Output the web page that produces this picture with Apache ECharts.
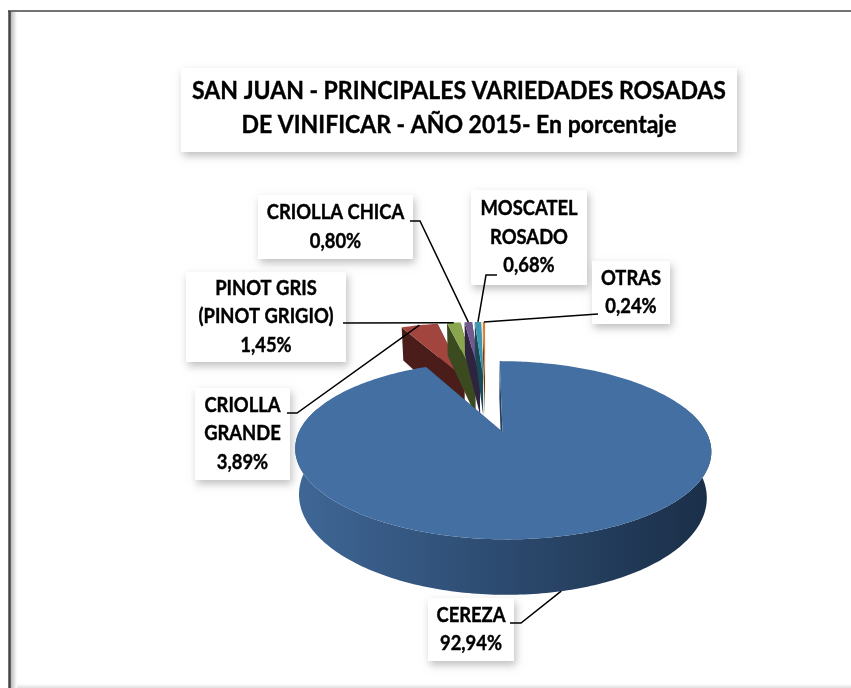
<!DOCTYPE html>
<html>
<head>
<meta charset="utf-8">
<script src="https://cdn.jsdelivr.net/npm/echarts@6/dist/echarts.min.js"></script>
<style>
html, body { margin: 0; padding: 0; background: #fff; }
#chart { width: 851px; height: 688px; }
</style>
</head>
<body>
<div id="chart"></div>
<script>
var variedades = ['CEREZA', 'CRIOLLA\nGRANDE', 'PINOT GRIS\n(PINOT GRIGIO)', 'CRIOLLA CHICA', 'MOSCATEL\nROSADO', 'OTRAS'];
var porcentajes = [92.94, 3.89, 1.45, 0.80, 0.68, 0.24];
var titulo = 'SAN JUAN - PRINCIPALES VARIEDADES ROSADAS\nDE VINIFICAR - AÑO 2015- En porcentaje';

var coloresTop = ['#446fa3', '#a3453f', '#89a54e', '#71588f', '#3d97b0', '#dd7e2a'];
var coloresLado = ['#25405f', '#4a1c1a', '#3c4a20', '#2e2440', '#1a4a55', '#6e3d12'];

// label boxes: x, y, w, h, then the leader's first points
var cajas = [
    { box: [428, 598, 86, 63], lider: [[510, 623], [521, 623]], pie: true },
    { box: [195, 388, 95, 92], lider: [[287, 413], [297, 413]] },
    { box: [186, 272, 160, 90], lider: [[343, 323]] },
    { box: [258, 195, 155, 64], lider: [[410, 221], [420, 221]] },
    { box: [471, 190, 116, 95], lider: [[497, 275], [486, 275]] },
    { box: [592, 261, 78, 63], lider: [[598, 314]] }
];

// perspective of the pie
var centroX = 485.5, centroY = 402.6, radioX = 189.3, radioY = 73.8;
var persp = 0.19, explosion = 0.38, alto = 41, encoge = 0.98;
var anchoLetra = 0.92; // Lato runs wider than the original font

function proyecta(u, v) {
    var d = 1 - persp * v;
    return { x: centroX + radioX * u / d, y: centroY + radioY * v / d, d: d };
}
function arriba(u, v) {
    var p = proyecta(u, v);
    return [p.x, p.y];
}
function abajo(u, v) {
    var p = proyecta(u, v);
    return [centroX + (p.x - centroX) * encoge, p.y + alto / p.d];
}

var total = porcentajes.reduce(function (a, b) { return a + b; }, 0);
var angulos = [];
porcentajes.reduce(function (acum, val) {
    var fin = acum + val;
    angulos.push([acum / total * 2 * Math.PI, fin / total * 2 * Math.PI]);
    return fin;
}, 0);

function geometria(i) {
    var a0 = angulos[i][0], a1 = angulos[i][1], mid = (a0 + a1) / 2;
    return { a0: a0, a1: a1, mid: mid, u0: explosion * Math.sin(mid), v0: -explosion * Math.cos(mid) };
}

function dibujaPorcion(params, api) {
    var i = api.value(0);
    var g = geometria(i);
    var pasos = Math.max(2, Math.ceil((g.a1 - g.a0) / (Math.PI / 180)));
    var sup = [arriba(g.u0, g.v0)], frente = [], frenteAbajo = [];
    for (var k = 0; k <= pasos; k++) {
        var a = g.a0 + (g.a1 - g.a0) * k / pasos;
        var u = g.u0 + Math.sin(a), v = g.v0 - Math.cos(a);
        sup.push(arriba(u, v));
        // the rim turns away a bit behind the widest point, the top face covers the rest
        if (Math.cos(a) < 0.3) {
            frente.push(arriba(u, v));
            frenteAbajo.unshift(abajo(u, v));
        }
    }
    function cara(a) {
        var u = g.u0 + Math.sin(a), v = g.v0 - Math.cos(a);
        return {
            type: 'polygon',
            shape: { points: [arriba(g.u0, g.v0), arriba(u, v), abajo(u, v), abajo(g.u0, g.v0)] },
            style: { fill: coloresLado[i] }
        };
    }
    var hijos = [cara(g.a0), cara(g.a1)];
    if (frente.length > 1) {
        hijos.push({
            type: 'polygon',
            shape: { points: frente.concat(frenteAbajo) },
            style: {
                fill: new echarts.graphic.LinearGradient(0, 0, 1, 0, [
                    { offset: 0, color: '#3f6796' },
                    { offset: 0.5, color: '#2c4a6f' },
                    { offset: 1, color: '#1a2e47' }
                ])
            }
        });
    }
    hijos.push({ type: 'polygon', shape: { points: sup }, style: { fill: coloresTop[i] } });
    return { type: 'group', children: hijos };
}

function dibujaEtiqueta(params, api) {
    var i = api.value(0);
    var c = cajas[i], g = geometria(i);
    var ux = g.u0 + Math.sin(g.mid), vx = g.v0 - Math.cos(g.mid);
    var fin = c.pie ? abajo(ux, vx) : arriba(ux, vx);
    var texto = variedades[i] + '\n' + porcentajes[i].toFixed(2).replace('.', ',') + '%';
    var mx = c.box[0] + c.box[2] / 2, my = c.box[1] + c.box[3] / 2;
    return {
        type: 'group',
        children: [
            {
                type: 'rect',
                shape: { x: c.box[0], y: c.box[1], width: c.box[2], height: c.box[3] },
                style: { fill: '#fff', shadowBlur: 8, shadowOffsetX: 2, shadowOffsetY: 4, shadowColor: 'rgba(0,0,0,0.25)' }
            },
            {
                type: 'text',
                originX: mx,
                originY: my,
                scaleX: anchoLetra,
                style: {
                    x: mx, y: my,
                    text: texto, align: 'center', verticalAlign: 'middle',
                    font: 'bold 20px Lato', lineHeight: 28.5, fill: '#000',
                    stroke: '#000', lineWidth: 0.4
                }
            },
            {
                type: 'polyline',
                shape: { points: c.lider.concat([fin]) },
                style: { stroke: '#000', lineWidth: 1.5, fill: 'none' }
            }
        ]
    };
}

var chart = echarts.init(document.getElementById('chart'), null, { renderer: 'canvas' });
chart.setOption({
    animation: false,
    backgroundColor: '#fff',
    graphic: [
        { type: 'rect', z: 0, shape: { x: 10, y: 12, width: 7, height: 676 }, style: { fill: new echarts.graphic.LinearGradient(0, 0, 1, 0, [{ offset: 0, color: '#b0b0b0' }, { offset: 1, color: '#fff' }]) } },
        { type: 'rect', z: 0, shape: { x: 17, y: 684, width: 834, height: 4 }, style: { fill: new echarts.graphic.LinearGradient(0, 0, 0, 1, [{ offset: 0, color: '#fff' }, { offset: 1, color: '#dfdfdf' }]) } },
        { type: 'line', z: 1, shape: { x1: 8, y1: 11, x2: 851, y2: 11 }, style: { stroke: '#444', lineWidth: 1.5 } },
        { type: 'line', z: 1, shape: { x1: 9.5, y1: 11, x2: 9.5, y2: 688 }, style: { stroke: '#444', lineWidth: 2.5 } },
        { type: 'rect', z: 3, shape: { x: 181, y: 68, width: 556, height: 84 }, style: { fill: '#fff', shadowBlur: 8, shadowOffsetX: 2, shadowOffsetY: 4, shadowColor: 'rgba(0,0,0,0.25)' } },
        { type: 'text', z: 4, originX: 459, originY: 107, scaleX: 0.92, style: { x: 459, y: 107.5, text: titulo, align: 'center', verticalAlign: 'middle', font: 'bold 25px Lato', lineHeight: 34, fill: '#000', stroke: '#000', lineWidth: 0.4 } }
    ],
    series: [
        {
            type: 'custom',
            coordinateSystem: 'none',
            silent: true,
            z: 2,
            renderItem: dibujaPorcion,
            data: [[1], [2], [3], [4], [5], [0]]
        },
        {
            type: 'custom',
            coordinateSystem: 'none',
            silent: true,
            z: 5,
            renderItem: dibujaEtiqueta,
            data: [[0], [1], [2], [3], [4], [5]]
        }
    ]
});
</script>
</body>
</html>
